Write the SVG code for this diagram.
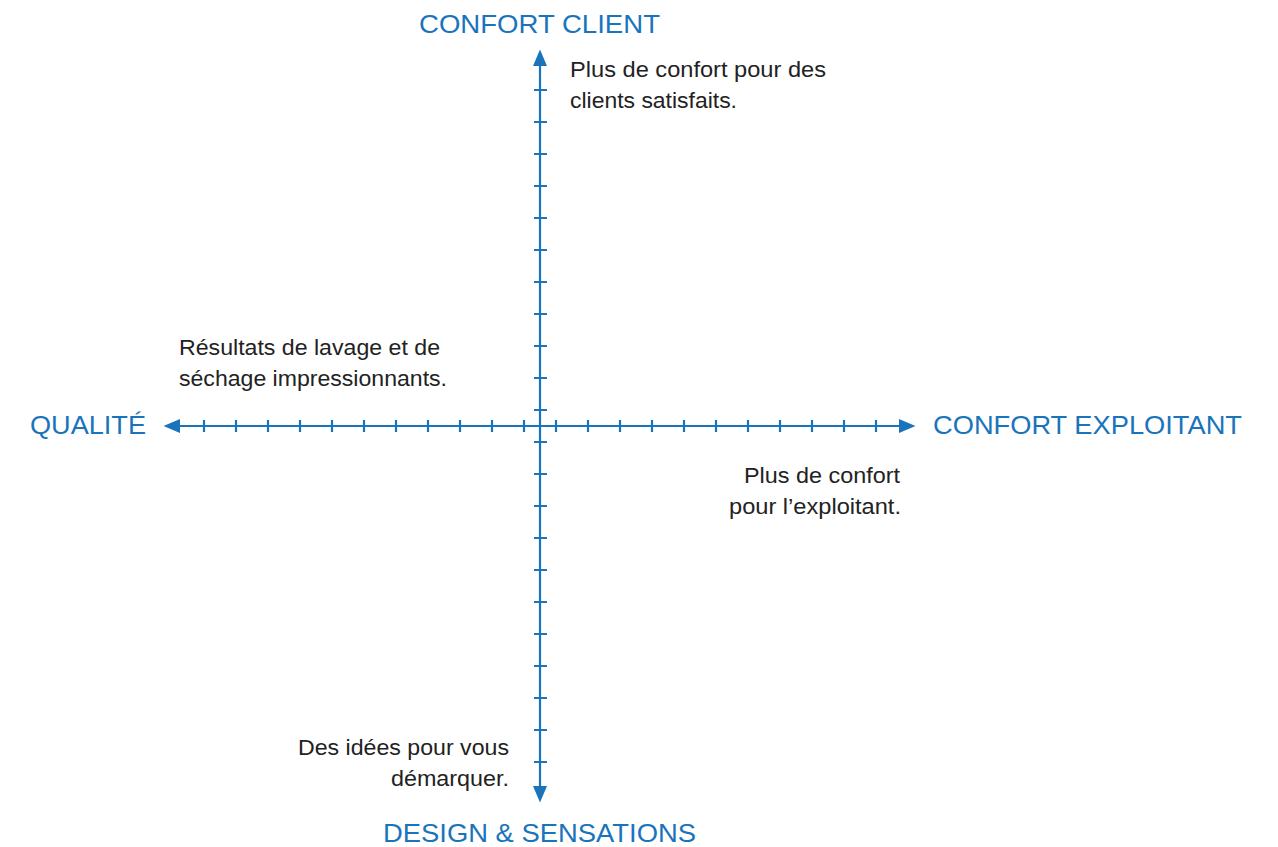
<svg xmlns="http://www.w3.org/2000/svg" width="1278" height="847" viewBox="0 0 1278 847">
<style>
.axis{stroke:#1a74bb;stroke-width:2.2;fill:none}
.tick{stroke:#1a74bb;stroke-width:2.2;fill:none}
.lbl{font-family:"Liberation Sans",Arial,sans-serif;font-size:26.5px;fill:#1a74bb}
.txt{font-family:"Liberation Sans",Arial,sans-serif;font-size:22.5px;fill:#222}
</style>
<defs>
<marker id="ah" markerUnits="userSpaceOnUse" markerWidth="17" markerHeight="15" refX="0" refY="7.5" orient="auto-start-reverse" viewBox="0 0 17 15">
<path d="M0,0.5 L16.5,7.5 L0,14.5 z" fill="#1a74bb"/>
</marker>
</defs>
<rect width="1278" height="847" fill="#fff"/>
<g id="connectors">
<line class="axis" x1="180" y1="426" x2="899" y2="426" marker-start="url(#ah)" marker-end="url(#ah)"/>
<line class="axis" x1="540" y1="66" x2="540" y2="786" marker-start="url(#ah)" marker-end="url(#ah)"/>
<path class="tick" d="M204,420v12M236,420v12M268,420v12M300,420v12M332,420v12M364,420v12M396,420v12M428,420v12M460,420v12M492,420v12M524,420v12M556,420v12M588,420v12M620,420v12M652,420v12M684,420v12M716,420v12M748,420v12M780,420v12M812,420v12M844,420v12M876,420v12"/>
<path class="tick" d="M534,90h13M534,122h13M534,154h13M534,186h13M534,218h13M534,250h13M534,282h13M534,314h13M534,346h13M534,378h13M534,410h13M534,442h13M534,474h13M534,506h13M534,538h13M534,570h13M534,602h13M534,634h13M534,666h13M534,698h13M534,730h13M534,762h13"/>
</g>
<g id="label-confort-client"><text class="lbl" x="419" y="33" textLength="241" lengthAdjust="spacingAndGlyphs">CONFORT CLIENT</text></g>
<g id="label-qualite"><text class="lbl" x="30" y="434" textLength="116" lengthAdjust="spacingAndGlyphs">QUALITÉ</text></g>
<g id="label-confort-exploitant"><text class="lbl" x="933" y="434" textLength="309" lengthAdjust="spacingAndGlyphs">CONFORT EXPLOITANT</text></g>
<g id="label-design"><text class="lbl" x="383" y="842" textLength="313" lengthAdjust="spacingAndGlyphs">DESIGN &amp; SENSATIONS</text></g>
<g id="note-client">
<text class="txt" x="570" y="76.5" textLength="256" lengthAdjust="spacingAndGlyphs">Plus de confort pour des</text>
<text class="txt" x="570" y="107.5" textLength="167" lengthAdjust="spacingAndGlyphs">clients satisfaits.</text>
</g>
<g id="note-qualite">
<text class="txt" x="179" y="355" textLength="261" lengthAdjust="spacingAndGlyphs">Résultats de lavage et de</text>
<text class="txt" x="179" y="386" textLength="268" lengthAdjust="spacingAndGlyphs">séchage impressionnants.</text>
</g>
<g id="note-exploitant">
<text class="txt" x="744" y="482.5" textLength="156" lengthAdjust="spacingAndGlyphs">Plus de confort</text>
<text class="txt" x="729" y="513.5" textLength="172" lengthAdjust="spacingAndGlyphs">pour l’exploitant.</text>
</g>
<g id="note-design">
<text class="txt" x="298" y="755" textLength="211" lengthAdjust="spacingAndGlyphs">Des idées pour vous</text>
<text class="txt" x="391" y="786" textLength="118" lengthAdjust="spacingAndGlyphs">démarquer.</text>
</g>
</svg>
